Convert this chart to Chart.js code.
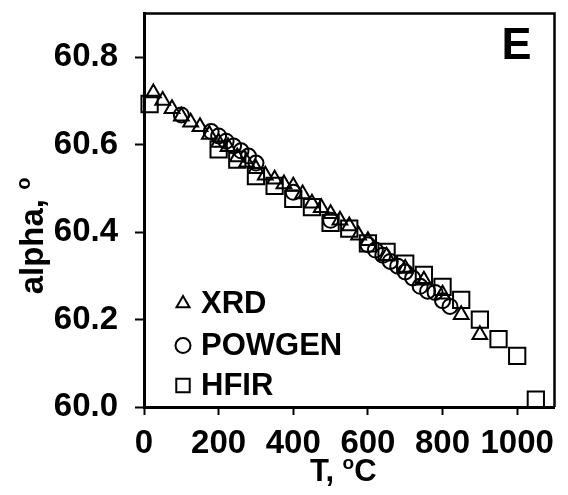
<!DOCTYPE html>
<html>
<head>
  <meta charset="UTF-8">
  <title>alpha vs T</title>
  <script src="https://cdn.jsdelivr.net/npm/chart.js"></script>
  <style>
    body { margin: 0; background: #fff; }
  </style>
</head>
<body>
  <canvas id="chart" width="568" height="495"></canvas>

  <script>
    // T (degC) and alpha (deg)
    const xrdT = [25, 50, 75, 100, 125, 150, 175, 200, 225, 250, 275, 300, 325, 350, 375, 400, 425, 450, 475, 500, 525, 550, 575, 600, 650, 700, 750, 800, 850, 900];
    const xrdAlpha = [60.718, 60.701, 60.682, 60.665, 60.651, 60.641, 60.623, 60.605, 60.595, 60.572, 60.560, 60.545, 60.530, 60.521, 60.510, 60.505, 60.487, 60.466, 60.456, 60.442, 60.427, 60.414, 60.393, 60.380, 60.345, 60.317, 60.290, 60.258, 60.211, 60.165];

    const powgenT = [100, 180, 200, 220, 240, 260, 280, 300, 400, 500, 600, 620, 640, 660, 680, 700, 720, 740, 760, 780, 800, 820];
    const powgenAlpha = [60.668, 60.630, 60.620, 60.608, 60.597, 60.586, 60.574, 60.558, 60.491, 60.427, 60.371, 60.359, 60.347, 60.333, 60.322, 60.309, 60.295, 60.276, 60.265, 60.262, 60.243, 60.230];

    const hfirT = [15, 200, 250, 300, 350, 400, 450, 500, 550, 600, 650, 700, 750, 800, 850, 900, 950, 1000, 1050];
    const hfirAlpha = [60.693, 60.589, 60.566, 60.528, 60.506, 60.476, 60.457, 60.421, 60.408, 60.374, 60.355, 60.328, 60.302, 60.275, 60.245, 60.200, 60.155, 60.117, 60.017];

    const xTicks = [0, 200, 400, 600, 800, 1000];
    const yTicks = [60.0, 60.2, 60.4, 60.6, 60.8];
    const seriesNames = ['XRD', 'POWGEN', 'HFIR'];
    const panelLabel = 'E';

    const FONT = "'Liberation Sans', Arial, sans-serif";

    function points(xs, ys) {
      return xs.map((x, i) => ({ x: x, y: ys[i] }));
    }

    const markers = [
      { style: 'triangle', radius: 8.5 },
      { style: 'circle', radius: 7.5 },
      { style: 'rect', radius: 11.5 }
    ];

    // text with a raised small "o"
    function drawSupText(ctx, parts, x, y, size) {
      const big = 'bold ' + size + 'px ' + FONT;
      const small = 'bold ' + Math.round(size * 0.62) + 'px ' + FONT;
      let w = 0;
      parts.forEach(p => {
        ctx.font = p.sup ? small : big;
        w += ctx.measureText(p.t).width;
      });
      let cx = x - w / 2;
      ctx.textAlign = 'left';
      ctx.textBaseline = 'alphabetic';
      parts.forEach(p => {
        ctx.font = p.sup ? small : big;
        ctx.fillText(p.t, cx, p.sup ? y - size * 0.38 : y);
        cx += ctx.measureText(p.t).width;
      });
    }

    function drawMarker(ctx, style, x, y, r) {
      ctx.beginPath();
      if (style === 'triangle') {
        ctx.moveTo(x, y - r);
        ctx.lineTo(x + r * Math.sin(2 * Math.PI / 3), y + r / 2);
        ctx.lineTo(x - r * Math.sin(2 * Math.PI / 3), y + r / 2);
        ctx.closePath();
      } else if (style === 'circle') {
        ctx.arc(x, y, r, 0, Math.PI * 2);
      } else {
        const s = r * Math.SQRT1_2;
        ctx.rect(x - s, y - s, 2 * s, 2 * s);
      }
      ctx.stroke();
    }

    const decorations = {
      id: 'decorations',
      afterDraw(chart) {
        const ctx = chart.ctx;
        const a = chart.chartArea;
        ctx.save();
        ctx.fillStyle = '#000';
        ctx.strokeStyle = '#000';

        // top and right frame
        ctx.lineWidth = 2.5;
        ctx.beginPath();
        ctx.moveTo(a.left, a.top);
        ctx.lineTo(a.right, a.top);
        ctx.lineTo(a.right, a.bottom);
        ctx.stroke();

        // panel letter
        ctx.font = 'bold 45px ' + FONT;
        ctx.textAlign = 'left';
        ctx.textBaseline = 'alphabetic';
        ctx.fillText(panelLabel, a.right - 53, a.top + 45);

        // legend in the lower left
        const rows = [a.top + 290, a.top + 332, a.top + 372];
        ctx.lineWidth = 2;
        seriesNames.forEach((name, i) => {
          const m = markers[i];
          drawMarker(ctx, m.style, a.left + 39, rows[i], i === 2 ? 9.5 : 7.5);
          ctx.font = 'bold 31px ' + FONT;
          ctx.textAlign = 'left';
          ctx.textBaseline = 'middle';
          ctx.fillText(name, a.left + 57, rows[i] + 1);
        });

        // axis titles
        drawSupText(ctx, [{ t: 'T, ' }, { t: 'o', sup: true }, { t: 'C' }], (a.left + a.right) / 2 - 6, 481, 31);
        ctx.save();
        ctx.translate(43, 236);
        ctx.rotate(-Math.PI / 2);
        drawSupText(ctx, [{ t: 'alpha, ' }, { t: 'o', sup: true }], 0, 0, 33);
        ctx.restore();

        ctx.restore();
      }
    };

    const datasets = [
      { label: seriesNames[0], data: points(xrdT, xrdAlpha) },
      { label: seriesNames[1], data: points(powgenT, powgenAlpha) },
      { label: seriesNames[2], data: points(hfirT, hfirAlpha) }
    ].map((d, i) => Object.assign(d, {
      pointStyle: markers[i].style,
      pointRadius: markers[i].radius,
      pointHoverRadius: markers[i].radius,
      pointBorderWidth: 2,
      borderColor: '#000',
      backgroundColor: 'rgba(0,0,0,0)',
      pointBackgroundColor: 'rgba(0,0,0,0)',
      showLine: false,
      clip: false
    }));

    const tickFont = { family: FONT, size: 33, weight: 'bold' };

    new Chart(document.getElementById('chart'), {
      type: 'scatter',
      data: { datasets: datasets },
      options: {
        responsive: false,
        animation: false,
        devicePixelRatio: 1,
        layout: { padding: { top: 10, right: 4, left: 0, bottom: 0 } },
        plugins: {
          legend: { display: false },
          tooltip: { enabled: false }
        },
        scales: {
          x: {
            type: 'linear',
            min: 0,
            max: 1100,
            afterBuildTicks: s => { s.ticks = xTicks.map(v => ({ value: v })); },
            afterFit: s => { s.height = 88; s.paddingLeft = 0; s.paddingRight = 0; },
            ticks: { font: tickFont, color: '#000', padding: 9, maxRotation: 0, callback: v => String(v) },
            grid: { drawOnChartArea: false, tickLength: 8, tickWidth: 2, color: '#000' },
            border: { color: '#000', width: 3 }
          },
          y: {
            min: 60.0,
            max: 60.9,
            afterBuildTicks: s => { s.ticks = yTicks.map(v => ({ value: v })); },
            afterFit: s => { s.width = 144; s.paddingTop = 0; s.paddingBottom = 0; },
            ticks: { font: tickFont, color: '#000', padding: 17, callback: v => v.toFixed(1) },
            grid: { drawOnChartArea: false, tickLength: 9, tickWidth: 2, color: '#000' },
            border: { color: '#000', width: 3 }
          }
        }
      },
      plugins: [decorations]
    });
  </script>
</body>
</html>
